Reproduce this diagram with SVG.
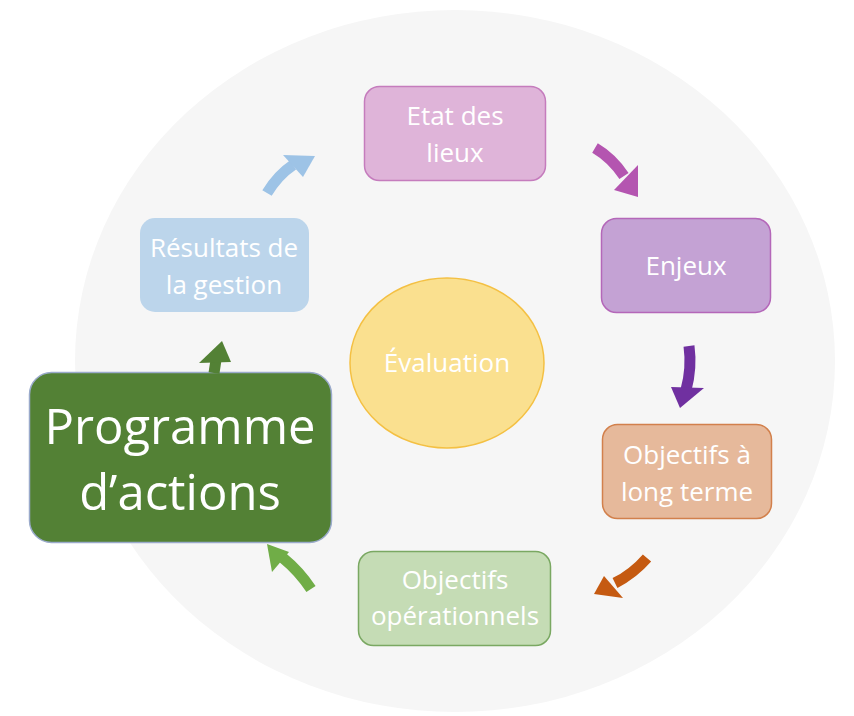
<svg xmlns="http://www.w3.org/2000/svg" width="854" height="716" viewBox="0 0 854 716">
<style>
text{font-family:"Open Sans","Liberation Sans",sans-serif;fill:#ffffff;text-anchor:middle}
.t{font-size:26px}
.big{font-size:49px}
.sh{fill:none;stroke-width:11;stroke-linecap:butt}
</style>
<rect width="854" height="716" fill="#ffffff"/>
<ellipse cx="455" cy="361" rx="380" ry="351" fill="#f6f6f6"/>
<g id="evaluation">
<ellipse cx="447" cy="363" rx="97" ry="85" fill="#fae08f" stroke="#f4c043" stroke-width="1.5"/>
<text class="t" x="447" y="372">Évaluation</text>
</g>
<g id="etat">
<rect x="364.5" y="86.5" width="181" height="94" rx="15" fill="#dfb4d9" stroke="#c57cbd" stroke-width="1.5"/>
<text class="t" x="455" y="125">Etat des</text>
<text class="t" x="455" y="162">lieux</text>
</g>
<g id="enjeux">
<rect x="601.5" y="218.5" width="169" height="94" rx="15" fill="#c4a2d4" stroke="#b467b9" stroke-width="1.5"/>
<text class="t" x="686" y="275">Enjeux</text>
</g>
<g id="long-terme">
<rect x="602.5" y="424.5" width="169" height="94" rx="15" fill="#e6b99b" stroke="#d2804c" stroke-width="1.5"/>
<text class="t" x="687" y="464">Objectifs à</text>
<text class="t" x="687" y="501">long terme</text>
</g>
<g id="operationnels">
<rect x="358.5" y="551.5" width="192" height="94" rx="15" fill="#c5dcb5" stroke="#7aa862" stroke-width="1.5"/>
<text class="t" x="455" y="589">Objectifs</text>
<text class="t" x="455" y="625">opérationnels</text>
</g>
<g id="programme">
<rect x="29.5" y="372.5" width="302" height="170" rx="22" fill="#538135" stroke="#9aaacb" stroke-width="1.5"/>
<text class="big" x="180" y="444">Programme</text>
<text class="big" x="180" y="510">d’actions</text>
</g>
<g id="resultats">
<rect x="140" y="218" width="169" height="94" rx="15" fill="#bcd5eb"/>
<text class="t" x="224" y="257">Résultats de</text>
<text class="t" x="224" y="294">la gestion</text>
</g>
<g id="connectors">
<path class="sh" d="M267,193 Q278,175 293,165" stroke="#9dc3e6"/>
<polygon points="315,156 283,155 303,177" fill="#9dc3e6"/>
<path class="sh" d="M595,148 Q612,158 624,176" stroke="#b455b0"/>
<polygon points="638,197 614,190 638,165" fill="#b455b0"/>
<path class="sh" d="M689,346 Q692,368 686,390" stroke="#7030a0"/>
<polygon points="680,408 671,387 704,388" fill="#7030a0"/>
<path class="sh" d="M647,558 Q633,574 615,583" stroke="#c55a11"/>
<polygon points="594,594 604,576 623,598" fill="#c55a11"/>
<path class="sh" d="M311,589 Q299,571 283,558" stroke="#70ad47"/>
<polygon points="267,544 289,552 272,572" fill="#70ad47"/>
<path class="sh" d="M214,373 L216,360" stroke="#538135"/>
<polygon points="222,341 199,363 231,362" fill="#538135"/>
</g>
</svg>
